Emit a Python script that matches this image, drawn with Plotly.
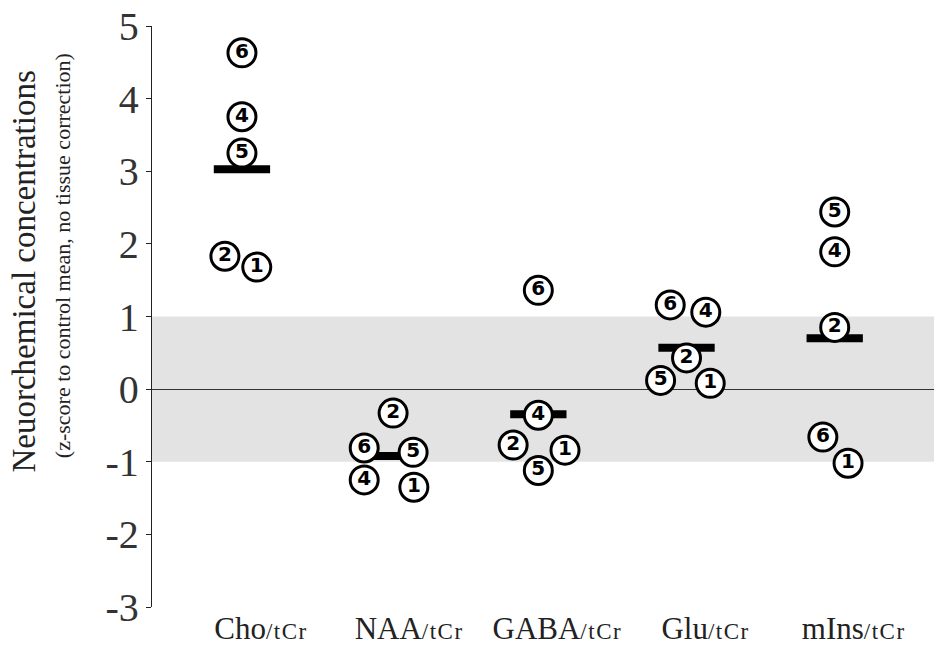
import plotly.graph_objects as go

# Metabolite ratios (categories on the x axis)
categories = ["Cho", "NAA", "GABA", "Glu", "mIns"]
denominator = "tCr"

# Participant IDs and z-scores for each metabolite
subject_ids = {
    "Cho":  ["6", "4", "5", "2", "1"],
    "NAA":  ["2", "6", "5", "4", "1"],
    "GABA": ["6", "4", "2", "1", "5"],
    "Glu":  ["6", "4", "2", "5", "1"],
    "mIns": ["5", "4", "2", "6", "1"],
}
z_scores = {
    "Cho":  [4.63, 3.75, 3.25, 1.83, 1.68],
    "NAA":  [-0.33, -0.81, -0.87, -1.25, -1.35],
    "GABA": [1.36, -0.36, -0.77, -0.84, -1.12],
    "Glu":  [1.16, 1.06, 0.43, 0.12, 0.08],
    "mIns": [2.44, 1.89, 0.85, -0.66, -1.02],
}
# Horizontal dodge of overlapping markers (category units)
dodge = {
    "Cho":  [0.0, 0.0, 0.0, -0.115, 0.10],
    "NAA":  [0.02, -0.175, 0.155, -0.175, 0.16],
    "GABA": [0.0, 0.0, -0.17, 0.18, 0.0],
    "Glu":  [-0.11, 0.13, 0.0, -0.175, 0.16],
    "mIns": [0.0, 0.0, 0.0, -0.08, 0.09],
}

y_ticks = [-3, -2, -1, 0, 1, 2, 3, 4, 5]
control_band = (-1, 1)

SERIF = "Liberation Serif"

fig = go.Figure()

# Normal range of controls (+/- 1 SD)
fig.add_shape(type="rect", xref="paper", x0=0, x1=1, yref="y",
              y0=control_band[0], y1=control_band[1],
              fillcolor="#e3e3e3", line_width=0, layer="below")

# Group means as thick horizontal bars
bar_x, bar_y = [], []
for i, c in enumerate(categories):
    m = sum(z_scores[c]) / len(z_scores[c])
    bar_x += [i - 0.19, i + 0.19, None]
    bar_y += [m, m, None]
fig.add_trace(go.Scatter(x=bar_x, y=bar_y, mode="lines",
                         line=dict(color="black", width=8),
                         hoverinfo="skip", showlegend=False))

# Individual participants as numbered circles
for i, c in enumerate(categories):
    fig.add_trace(go.Scatter(
        x=[i + d for d in dodge[c]], y=z_scores[c],
        mode="markers+text", text=subject_ids[c],
        textposition="middle center",
        textfont=dict(family="DejaVu Sans", size=20, color="black", weight="bold"),
        marker=dict(size=28, color="white", line=dict(color="black", width=3)),
        showlegend=False,
    ))

tick_text = [f"{c}<span style='font-size:23px;letter-spacing:1.5px'>/{denominator}</span>"
             for c in categories]

fig.update_layout(
    width=934, height=650,
    margin=dict(l=152, r=0, t=26, b=43),
    paper_bgcolor="white", plot_bgcolor="white",
    font=dict(family=SERIF, color="#222"),
    xaxis=dict(range=[-0.607, 4.67], tickvals=list(range(len(categories))),
               ticktext=tick_text, showline=False, showgrid=False,
               zeroline=False, ticks="", tickfont=dict(size=31, family=SERIF, color="#222"),
               ticklabelshift=19, ticklabelstandoff=0),
    yaxis=dict(range=[-3, 5], tickvals=y_ticks, ticktext=[str(v) for v in y_ticks],
               showline=True, linecolor="#222", linewidth=1.3,
               ticks="outside", ticklen=5, tickwidth=1.3, tickcolor="#222",
               showgrid=False, zeroline=True, zerolinecolor="#333",
               zerolinewidth=1.3, tickfont=dict(size=40, family=SERIF, color="#333"),
               ticklabelstandoff=-1),
)

# Two-line y-axis title
fig.add_annotation(text="Neuorchemical concentrations", textangle=-90,
                   xref="paper", yref="paper", x=-0.164, y=0.577,
                   xanchor="center", yanchor="middle", showarrow=False,
                   font=dict(size=33, family=SERIF, color="#222"))
fig.add_annotation(text="(z-score to control mean, no tissue correction)", textangle=-90,
                   xref="paper", yref="paper", x=-0.115, y=0.604,
                   xanchor="center", yanchor="middle", showarrow=False,
                   font=dict(size=22, family=SERIF, color="#222"))

fig.write_html("out.html")
